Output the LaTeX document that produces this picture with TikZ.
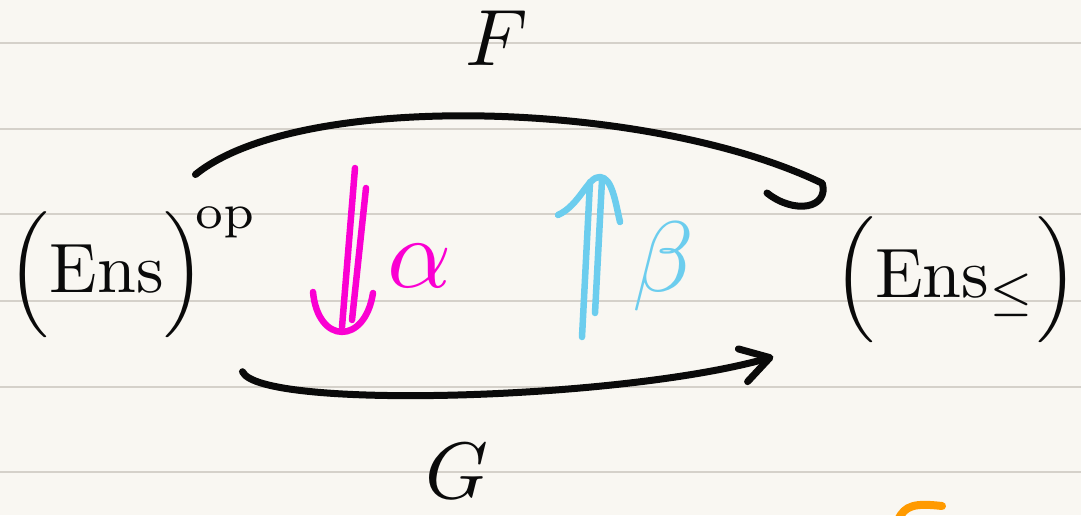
\documentclass[tikz,border=0pt]{standalone}
\usepackage{graphicx}
\usetikzlibrary{arrows.meta}
\definecolor{Paper}{HTML}{F9F7F2}
\definecolor{Rule}{HTML}{D5D1CA}
\definecolor{Ink}{HTML}{0A0A0A}
\definecolor{Pink}{HTML}{FA00D2}
\definecolor{Sky}{HTML}{6CCDEE}
\definecolor{Amber}{HTML}{FF9A00}

\begin{document}
\begin{tikzpicture}[x=1pt,y=-1pt,
    obj/.style={inner sep=0pt,anchor=base,text=Ink},
    lbl/.style={inner sep=0pt,anchor=base},
    rule/.style={Rule,line width=1.6pt},
    stroke/.style={Ink,line width=7pt,line cap=round,line join=round},
    pen/.style={line width=6.5pt,line cap=round,line join=round}
  ]
    \useasboundingbox (0,0) rectangle (1081,515);
    \clip (0,0) rectangle (1081,515);
    \fill[Paper] (0,0) rectangle (1081,515);
    \foreach \y in {43,129,214,301,387,472} \draw[rule] (0,\y) -- (1081,\y);
    % objects
    \node[obj] (ensop) at (133,292) {\scalebox{7}{$\Bigl(\mathrm{Ens}\Bigr)^{\!\mathrm{op}}$}};
    \node[obj] (ensle) at (956,297) {\scalebox{7}{$\Bigl(\mathrm{Ens}_{\leq}\Bigr)$}};
    \node[lbl,text=Ink] (f) at (497,65) {\scalebox{8}{$F$}};
    \node[lbl,text=Ink] (g) at (457,498) {\scalebox{8}{$G$}};
    % functors
    \draw[stroke] ([shift={(-63,-33)}]ensop.north east) .. controls (300,90) and (650,100) ..
      ([shift={(-11,-33)}]ensle.north west) .. controls (829,208) and (795,215) .. (767,193);
    \draw[stroke,-{Straight Barb[length=28pt,width=34pt,round]}]
      ([shift={(-16,34)}]ensop.south east) .. controls (260,410) and (620,400) ..
      ([shift={(-60,14)}]ensle.south west);
    % transformations
    \coordinate (a1) at (355,168); \coordinate (a2) at (342,327);
    \coordinate (a3) at (366,188); \coordinate (a4) at (352,320);
    \draw[pen,Pink] (a1) -- (a2); \draw[pen,Pink] (a3) -- (a4);
    \draw[pen,Pink] (313,292) .. controls (318,345) and (365,345) .. (373,293);
    \node[lbl,text=Pink] (alpha) at (420,287) {\scalebox{10}{$\alpha$}};
    \coordinate (b1) at (582,337); \coordinate (b2) at (590,182);
    \coordinate (b3) at (595,313); \coordinate (b4) at (602,180);
    \draw[pen,Sky] (b1) -- (b2); \draw[pen,Sky] (b3) -- (b4);
    \draw[pen,Sky] (558,215) .. controls (580,205) and (588,176) .. (600,177)
      .. controls (612,178) and (615,200) .. (620,222);
    \node[lbl,text=Sky] (beta) at (663,291) {\scalebox{10}{$\beta$}};
    \draw[pen,Amber,line width=8pt] (898,520) .. controls (905,505) and (915,503) .. (942,506);
  \end{tikzpicture}
\end{document}
